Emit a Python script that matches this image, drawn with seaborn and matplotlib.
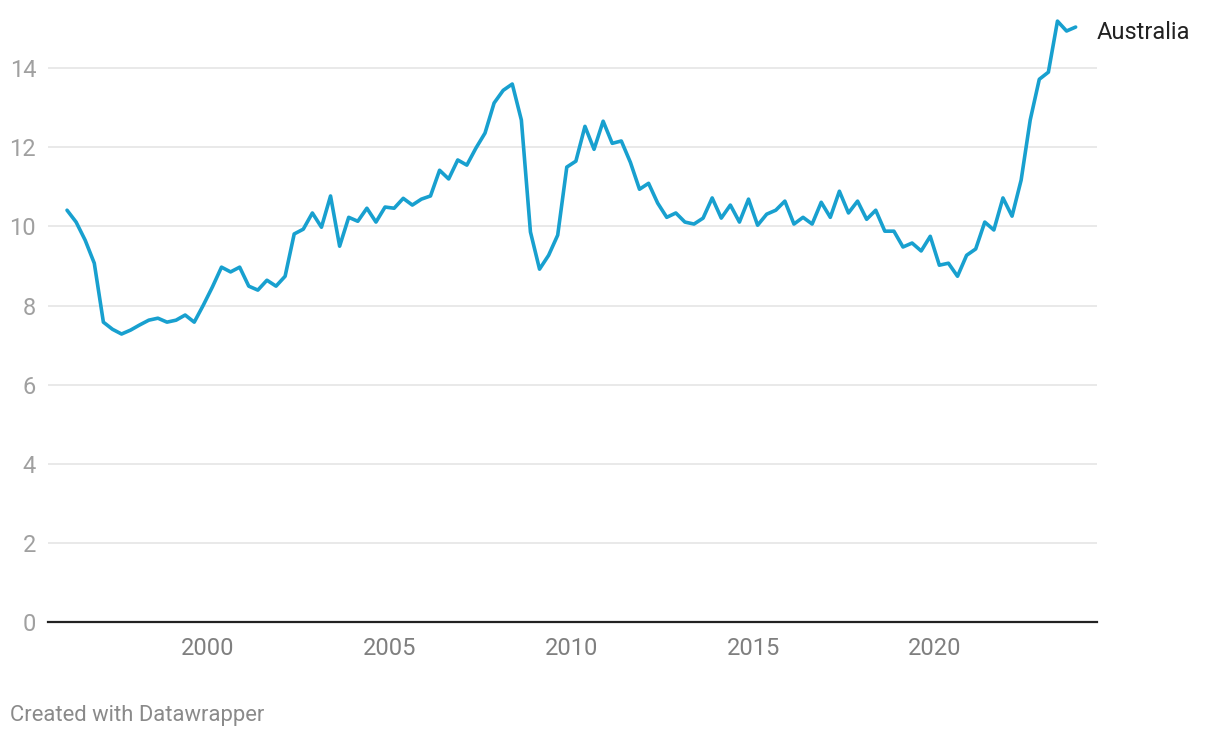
import numpy as np
import pandas as pd
import matplotlib
matplotlib.use("Agg")
import matplotlib.pyplot as plt
import seaborn as sns

# Quarterly series, 1996 Q1 .. 2023 Q4 (plotted at mid-quarter)
start_year = 1996
values = [
    10.41, 10.11, 9.65, 9.07, 7.58, 7.40, 7.28, 7.38, 7.51, 7.63, 7.68, 7.58,
    7.63, 7.76, 7.58, 8.01, 8.47, 8.97, 8.85, 8.97, 8.49, 8.39, 8.64, 8.49,
    8.74, 9.81, 9.93, 10.34, 9.98, 10.77, 9.50, 10.23, 10.13, 10.46, 10.11, 10.49,
    10.46, 10.71, 10.54, 10.69, 10.77, 11.42, 11.20, 11.68, 11.55, 11.98, 12.36, 13.12,
    13.44, 13.60, 12.69, 9.86, 8.92, 9.27, 9.78, 11.50, 11.65, 12.53, 11.95, 12.66,
    12.10, 12.16, 11.62, 10.94, 11.09, 10.59, 10.23, 10.34, 10.11, 10.06, 10.21, 10.72,
    10.21, 10.54, 10.11, 10.69, 10.03, 10.31, 10.41, 10.64, 10.06, 10.23, 10.06, 10.61,
    10.23, 10.89, 10.34, 10.64, 10.18, 10.41, 9.88, 9.88, 9.48, 9.58, 9.38, 9.75,
    9.02, 9.07, 8.74, 9.27, 9.43, 10.11, 9.91, 10.72, 10.26, 11.17, 12.69, 13.72,
    13.90, 15.19, 14.94, 15.04,
]
series_name = "Australia"
y_ticks = [0, 2, 4, 6, 8, 10, 12, 14]
x_ticks = [2000, 2005, 2010, 2015, 2020]

t = [start_year + 0.125 + 0.25 * i for i in range(len(values))]
df = pd.DataFrame({"t": t, "v": values})

sns.set_theme(style="white")
plt.rcParams["font.family"] = ["Roboto", "DejaVu Sans"]

fig = plt.figure(figsize=(12.2, 7.38), dpi=100)
ax = fig.add_axes([0.0393, 0.1572, 0.8598, 0.8265])

line_color = "#18a0cf"
sns.lineplot(data=df, x="t", y="v", ax=ax, color=line_color, linewidth=2.6)

ax.set_xlim(1995.6, 2024.46)
ax.set_ylim(0, 15.42)
ax.set_yticks(y_ticks)
ax.set_xticks(x_ticks)
ax.set_xticklabels([str(x) for x in x_ticks])
ax.set_yticklabels([str(y) for y in y_ticks])
ax.grid(axis="y", color="#e3e3e3", linewidth=1.1)
ax.grid(axis="x", visible=False)
ax.set_axisbelow(True)
for s in ["top", "right", "left"]:
    ax.spines[s].set_visible(False)
ax.spines["bottom"].set_color("#222222")
ax.spines["bottom"].set_linewidth(1.6)
ax.tick_params(axis="y", length=0, pad=8.5, labelsize=17, labelcolor="#a0a0a0")
ax.tick_params(axis="x", length=0, pad=10.5, labelsize=17, labelcolor="#7f7f7f")
ax.set_xlabel("")
ax.set_ylabel("")

ax.annotate(series_name, xy=(t[-1], values[-1]), xytext=(15, -3.6),
            textcoords="offset points", va="center", ha="left",
            fontsize=17, color="#222222", annotation_clip=False)

fig.text(10 / 1220, 1 - 715 / 738, "Created with Datawrapper", fontsize=15.8,
         color="#8a8a8a", ha="left", va="center")

fig.savefig("out.png", dpi=100)
